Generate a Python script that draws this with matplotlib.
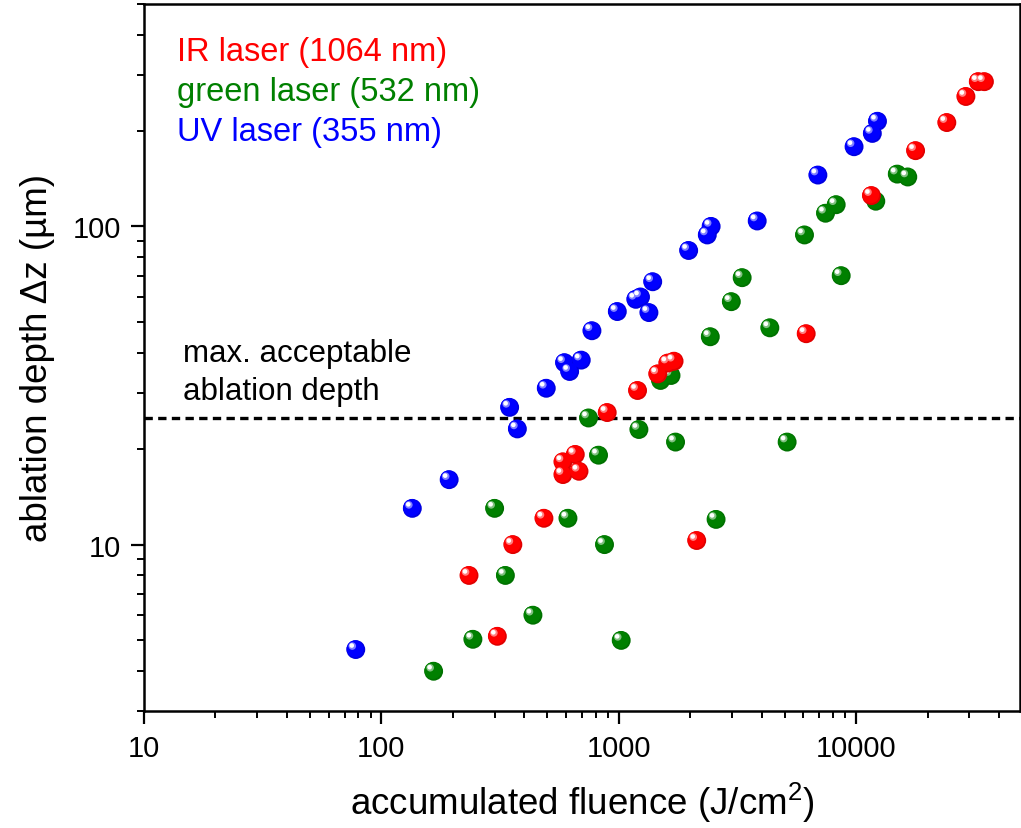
import numpy as np
import matplotlib
matplotlib.use("Agg")
import matplotlib.pyplot as plt
import matplotlib.transforms as mtransforms
from matplotlib.colors import to_rgb
from matplotlib.ticker import LogLocator, NullFormatter, FixedLocator, FixedFormatter

plt.rcParams['font.family'] = ['Liberation Sans', 'DejaVu Sans']
plt.rcParams['mathtext.fontset'] = 'custom'
plt.rcParams['mathtext.rm'] = 'Liberation Sans'
plt.rcParams['mathtext.it'] = 'Liberation Sans:italic'

# ---------------- data ----------------
ir_fluence = [32700, 34700, 29000, 24100, 17800, 11600, 6160, 1710, 1610, 1460,
              1200, 894, 656, 582, 680, 582, 484, 358, 2130, 308, 234]
ir_depth = [285, 285, 256, 212, 173, 125, 46, 37.7, 37.2, 34.4,
            30.5, 26.0, 19.2, 18.2, 17.0, 16.6, 12.1, 10.0, 10.3, 5.15, 8.0]

green_fluence = [14900, 16500, 12100, 8240, 7430, 6060, 3310, 8650, 2980, 2430,
                 4330, 1660, 1500, 746, 1216, 1735, 5120, 822, 611, 2570,
                 871, 333, 435, 1024, 300, 243, 166]
green_depth = [146, 143, 120, 117, 110, 94, 69, 70, 58, 45,
               48, 34, 32.8, 25.0, 23.0, 21.0, 21.0, 19.1, 12.1, 12.0,
               10.0, 8.0, 6.0, 5.0, 13.0, 5.04, 4.0]

uv_fluence = [12300, 11700, 9800, 6900, 3830, 2450, 2360, 1970, 1390, 1235,
              1180, 1340, 986, 771, 695, 591, 621, 495, 347, 374,
              193, 135, 78]
uv_depth = [214, 196, 178, 145, 104, 100, 94, 84, 67, 60,
            59, 53.6, 54, 47, 38, 37.3, 35, 31, 27, 23.1,
            16, 13, 4.68]

threshold_depth = 25
series_labels = ["IR laser (1064 nm)", "green laser (532 nm)", "UV laser (355 nm)"]
annotation = ["max. acceptable", "ablation depth"]
x_ticks = [10, 100, 1000, 10000]
x_ticklabels = ["10", "100", "1000", "10000"]
y_ticks = [10, 100]
y_ticklabels = ["10", "100"]

# ---------------- figure ----------------
fig = plt.figure(figsize=(10.21, 8.29), dpi=100)
ax = fig.add_axes([144/1021, 117/829, 876/1021, 707/829])

ax.set_xscale('log')
ax.set_yscale('log')
ax.set_xlim(10, 49000)
ax.set_ylim(3, 500)

RED = '#ff0000'
GREEN = '#008000'
BLUE = '#0000ff'


def mix(c, w, t):
    c = np.array(to_rgb(c))
    w = np.array(to_rgb(w))
    return tuple(c * (1 - t) + w * t)


def sphere(x, y, color, size=185, z=3):
    # dark rim
    ax.scatter(x, y, s=size, color=mix(color, 'black', 0.12), edgecolors='none', zorder=z)
    ax.scatter(x, y, s=size * 0.8, color=color, edgecolors='none', zorder=z + 0.01,
               transform=mtransforms.offset_copy(ax.transData, fig=fig, x=-0.5, y=0.5, units='points'))
    ax.scatter(x, y, s=size * 0.16, color=mix(color, 'white', 0.5), edgecolors='none', zorder=z + 0.02,
               transform=mtransforms.offset_copy(ax.transData, fig=fig, x=-2.5, y=2.5, units='points'))
    ax.scatter(x, y, s=size * 0.06, color='white', edgecolors='none', zorder=z + 0.03,
               transform=mtransforms.offset_copy(ax.transData, fig=fig, x=-2.9, y=2.9, units='points'))


sphere(green_fluence, green_depth, GREEN, z=3)
sphere(ir_fluence, ir_depth, RED, z=4)
sphere(uv_fluence, uv_depth, BLUE, z=5)

ax.axhline(threshold_depth, color='black', lw=2.4, dashes=(2.5, 1.6), zorder=2)

# legend-like colored text
for lab, col, yb in zip(series_labels, [RED, GREEN, BLUE], [0.9208, 0.8642, 0.807]):
    ax.text(0.0377, yb, lab, color=col, fontsize=23.5, transform=ax.transAxes,
            ha='left', va='baseline')

ax.text(0.0445, 0.495, annotation[0], fontsize=22.5, transform=ax.transAxes,
        ha='left', va='baseline', color='black')
ax.text(0.0445, 0.441, annotation[1], fontsize=22.5, transform=ax.transAxes,
        ha='left', va='baseline', color='black')

# ticks
ax.xaxis.set_major_locator(FixedLocator(x_ticks))
ax.xaxis.set_major_formatter(FixedFormatter(x_ticklabels))
ax.xaxis.set_minor_locator(LogLocator(base=10, subs=np.arange(2, 10), numticks=20))
ax.xaxis.set_minor_formatter(NullFormatter())
ax.yaxis.set_major_locator(FixedLocator(y_ticks))
ax.yaxis.set_major_formatter(FixedFormatter(y_ticklabels))
ax.yaxis.set_minor_locator(LogLocator(base=10, subs=np.arange(2, 10), numticks=20))
ax.yaxis.set_minor_formatter(NullFormatter())

ax.tick_params(which='major', direction='out', length=9.5, width=1.6, labelsize=21,
               pad=7, top=False, right=False)
ax.tick_params(which='minor', direction='out', length=5, width=1.4, top=False, right=False)

for sp in ax.spines.values():
    sp.set_linewidth(1.8)

ax.set_xlabel('accumulated fluence (J/cm$^{2}$)', fontsize=26.5)
ax.set_ylabel('ablation depth \u0394z (\u00b5m)', fontsize=26.5)
ax.xaxis.set_label_coords(0.5, -0.097)
ax.yaxis.set_label_coords(-0.102, 0.5)

fig.savefig('out.png', dpi=100)
